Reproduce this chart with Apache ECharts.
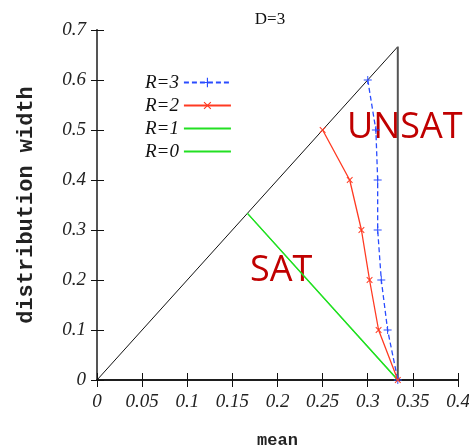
<!DOCTYPE html>
<html>
<head>
<meta charset="utf-8">
<script src="https://cdn.jsdelivr.net/npm/echarts@6/dist/echarts.min.js"></script>
<style>
  html, body { margin: 0; padding: 0; background: #fff; }
  #chart { width: 469px; height: 448px; }
</style>
</head>
<body>
<div id="chart"></div>
<script>
// Distribution width vs. mean, D=3
const seriesNames = ['R=3', 'R=2', 'R=1', 'R=0'];

// [mean, distribution width] points for each R
const r3Points = [[0.300, 0.6], [0.309, 0.5], [0.311, 0.4], [0.311, 0.3], [0.315, 0.2], [0.322, 0.1], [0.3333, 0]];
const r2Points = [[0.250, 0.5], [0.280, 0.4], [0.293, 0.3], [0.302, 0.2], [0.312, 0.1], [0.3333, 0]];
const r1Points = [[0.1667, 0.3333], [0.3333, 0]];
const r0Points = [[0.1667, 0.3333], [0.3333, 0]];

// Region boundary: diagonal width = 2*mean, then the vertical edge at mean = 1/3
const diagonalEdge = [[0, 0], [0.3333, 0.6667]];
const verticalEdge = [[0.3333, 0.6667], [0.3333, 0]];

const xTicks = { min: 0, max: 0.4, interval: 0.05 };
const yTicks = { min: 0, max: 0.7, interval: 0.1 };

const plusPath = 'path://M0,4.4L10,4.4L10,5.6L0,5.6ZM4.4,0L5.6,0L5.6,10L4.4,10Z';
const tickFont = { fontFamily: 'Liberation Serif', fontStyle: 'italic', fontSize: 19, color: '#222' };
const fmt = v => String(+(+v).toFixed(2));

const chart = echarts.init(document.getElementById('chart'), null, { renderer: 'canvas' });

chart.setOption({
  animation: false,
  backgroundColor: '#fff',
  title: {
    text: 'D=3',
    left: 265,
    top: 6,
    textAlign: 'center',
    textStyle: { fontFamily: 'Liberation Serif', fontWeight: 'normal', fontSize: 17, color: '#111' }
  },
  grid: { left: 97, right: 11, top: 30, bottom: 68, containLabel: false, outerBoundsMode: 'none' },
  legend: {
    data: [
      { name: seriesNames[0] },
      { name: seriesNames[1] },
      { name: seriesNames[2], itemStyle: { opacity: 0 } },
      { name: seriesNames[3], itemStyle: { opacity: 0 } }
    ],
    orient: 'vertical',
    align: 'right',
    left: 140,
    top: 68,
    itemWidth: 47,
    itemHeight: 12,
    itemGap: 4,
    textStyle: { fontFamily: 'Liberation Serif', fontStyle: 'italic', fontSize: 19, color: '#111' }
  },
  xAxis: [
    {
      type: 'value', position: 'bottom',
      min: xTicks.min, max: xTicks.max, interval: xTicks.interval,
      name: 'mean', nameLocation: 'middle', nameGap: 52,
      nameTextStyle: { fontFamily: 'Liberation Mono', fontWeight: 'bold', fontSize: 17, color: '#222' },
      axisLine: { lineStyle: { color: '#111', width: 1.5 } },
      axisTick: { inside: true, length: 7, lineStyle: { color: '#111' } },
      axisLabel: Object.assign({ margin: 12, formatter: fmt }, tickFont),
      splitLine: { show: false }
    },
    {
      type: 'value', position: 'top',
      min: xTicks.min, max: xTicks.max, interval: xTicks.interval,
      axisLine: { lineStyle: { color: '#111', width: 1.5 } },
      axisTick: { inside: true, length: 7, lineStyle: { color: '#111' } },
      axisLabel: { show: false },
      splitLine: { show: false }
    }
  ],
  yAxis: [
    {
      type: 'value', position: 'left',
      min: yTicks.min, max: yTicks.max, interval: yTicks.interval,
      name: 'distribution width', nameLocation: 'middle', nameGap: 60,
      nameTextStyle: { fontFamily: 'Liberation Mono', fontWeight: 'bold', fontSize: 22, color: '#222' },
      axisLine: { lineStyle: { color: '#111', width: 1.5 } },
      axisTick: { inside: true, length: 7, lineStyle: { color: '#111' } },
      axisLabel: Object.assign({ margin: 11, formatter: fmt }, tickFont),
      splitLine: { show: false }
    },
    {
      type: 'value', position: 'right',
      min: yTicks.min, max: yTicks.max, interval: yTicks.interval,
      axisLine: { lineStyle: { color: '#555', width: 2 } },
      axisTick: { inside: true, length: 6, lineStyle: { color: '#111' } },
      axisLabel: { show: false },
      splitLine: { show: false }
    }
  ],
  graphic: [
    {
      type: 'text', left: 347, top: 110, z: 0,
      style: { text: 'UNSAT', fontFamily: 'Open Sans', fontSize: 36, fill: '#c00000' }
    },
    {
      type: 'text', left: 250, top: 253, z: 0,
      style: { text: 'SAT', fontFamily: 'Open Sans', fontSize: 36, fill: '#c00000' }
    }
  ],
  series: [
    {
      name: 'edge-diag', type: 'line', data: diagonalEdge, showSymbol: false,
      lineStyle: { color: '#111', width: 1 }, silent: true, z: 3
    },
    {
      name: 'edge-vert', type: 'line', data: verticalEdge, showSymbol: false,
      lineStyle: { color: '#555', width: 2 }, silent: true, z: 3
    },
    {
      name: seriesNames[0], type: 'line', data: r3Points,
      symbol: plusPath, symbolSize: 8, showAllSymbol: true,
      itemStyle: { color: '#2a4cff' },
      lineStyle: { color: '#2a4cff', width: 1.3, type: [5, 3] }, z: 5
    },
    {
      name: seriesNames[1], type: 'line', data: r2Points,
      symbol: plusPath, symbolSize: 8, symbolRotate: 45,
      itemStyle: { color: '#ff3a22' },
      lineStyle: { color: '#ff3a22', width: 1.3 }, z: 5
    },
    {
      name: seriesNames[2], type: 'line', data: r1Points, showSymbol: false, symbol: 'none',
      itemStyle: { color: '#22e022' },
      lineStyle: { color: '#22e022', width: 1.2 }, z: 4
    },
    {
      name: seriesNames[3], type: 'line', data: r0Points, showSymbol: false, symbol: 'none',
      itemStyle: { color: '#22e022' },
      lineStyle: { color: '#22e022', width: 1.2 }, z: 4
    }
  ]
});
</script>
</body>
</html>
